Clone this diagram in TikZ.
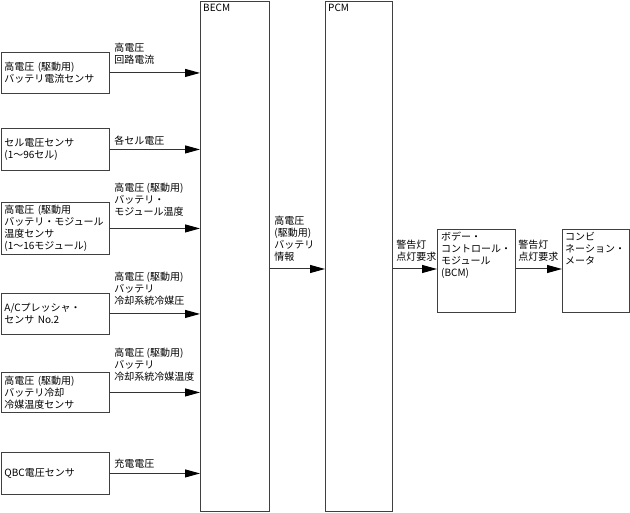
\documentclass[tikz,border=0pt]{standalone}
\usepackage{fontspec}
\setmainfont{Noto Sans CJK JP}
\usetikzlibrary{arrows.meta,positioning}
\tikzset{
  box/.style={
    draw=black!75,
    line width=0.9pt,
    font=\fontsize{10}{12}\selectfont
  },
  sensor/.style={
    box,
    anchor=north west,
    align=left,
    text width=102pt,
    inner xsep=3pt,
    inner ysep=0pt
  },
  module/.style={
    box,
    anchor=north west,
    inner sep=0pt
  },
  title/.style={
    anchor=north west,
    align=left,
    inner sep=0pt,
    font=\fontsize{10}{12}\selectfont
  },
  sig/.style={
    anchor=south west,
    align=left,
    inner sep=0pt,
    font=\fontsize{10}{12}\selectfont
  },
  arrow/.style={-{Triangle[length=15pt,width=8pt,color=black]}, draw=black!80, line width=1pt},
}
\begin{document}
\begin{tikzpicture}[x=1pt,y=-1pt]
\useasboundingbox (0,0) rectangle (630,513);

% Modules
\node[module, minimum width=69pt, minimum height=510pt] (becm) at (200,1) {};
\node[title] (becmtxt) at (203,4) {BECM};
\node[module, minimum width=67pt, minimum height=510pt] (pcm) at (325,1) {};
\node[title] (pcmtxt) at (328,4) {PCM};
\node[module, minimum width=78pt, minimum height=83pt] (bcm) at (437,229) {};
\node[title] (bcmtxt) at (441,232) {ボデー・\\コントロール・\\モジュール\\(BCM)};
\node[module, minimum width=67pt, minimum height=83pt] (meter) at (562,229) {};
\node[title] (metertxt) at (565,232) {コンビ\\ネーション・\\メータ};

% Sensors
\node[sensor, minimum height=41pt] (hvcur) at (1,52) {高電圧 (駆動用)\\バッテリ電流センサ};
\node[sensor, minimum height=42pt] (cellv) at (1,128) {セル電圧センサ\\(1〜96セル)};
\node[sensor, minimum height=52pt] (modtemp) at (1,202) {高電圧 (駆動用\\バッテリ・モジュール\\温度センサ\\(1〜16モジュール)};
\node[sensor, minimum height=41pt] (acpres) at (1,293) {A/Cプレッシャ・\\センサ No.2};
\node[sensor, minimum height=40pt] (cooltemp) at (1,372) {高電圧 (駆動用)\\バッテリ冷却\\冷媒温度センサ};
\node[sensor, minimum height=42pt] (qbc) at (1,452) {QBC電圧センサ};

% Sensor signals to BECM
\draw[arrow] (hvcur.east) -- (hvcur.east -| becm.west)
  node[sig, pos=0, xshift=4pt, yshift=8pt] (hvcursig) {高電圧\\回路電流};
\draw[arrow] (cellv.east) -- (cellv.east -| becm.west)
  node[sig, pos=0, xshift=4pt, yshift=4pt] (cellvsig) {各セル電圧};
\draw[arrow] (modtemp.east) -- (modtemp.east -| becm.west)
  node[sig, pos=0, xshift=4pt, yshift=12pt] (modtempsig) {高電圧 (駆動用)\\バッテリ・\\モジュール温度};
\draw[arrow] (acpres.east) -- (acpres.east -| becm.west)
  node[sig, pos=0, xshift=4pt, yshift=8pt] (acpressig) {高電圧 (駆動用)\\バッテリ\\冷却系統冷媒圧};
\draw[arrow] (cooltemp.east) -- (cooltemp.east -| becm.west)
  node[sig, pos=0, xshift=4pt, yshift=11pt] (cooltempsig) {高電圧 (駆動用)\\バッテリ\\冷却系統冷媒温度};
\draw[arrow] (qbc.east) -- (qbc.east -| becm.west)
  node[sig, pos=0, xshift=4pt, yshift=5pt] (qbcsig) {充電電圧};

% BECM -> PCM -> BCM -> meter
\draw[arrow] (becm.east |- 0,269) -- (pcm.west |- 0,269)
  node[sig, pos=0, xshift=4pt, yshift=7pt] (battsig) {高電圧\\(駆動用)\\バッテリ\\情報};
\draw[arrow] (pcm.east |- 0,269) -- (bcm.west |- 0,269)
  node[sig, pos=0, xshift=3pt, yshift=7pt] (pcmsig) {警告灯\\点灯要求};
\draw[arrow] (bcm.east |- 0,269) -- (meter.west |- 0,269)
  node[sig, pos=0, xshift=2pt, yshift=7pt] (bcmsig) {警告灯\\点灯要求};

\end{tikzpicture}
\end{document}
